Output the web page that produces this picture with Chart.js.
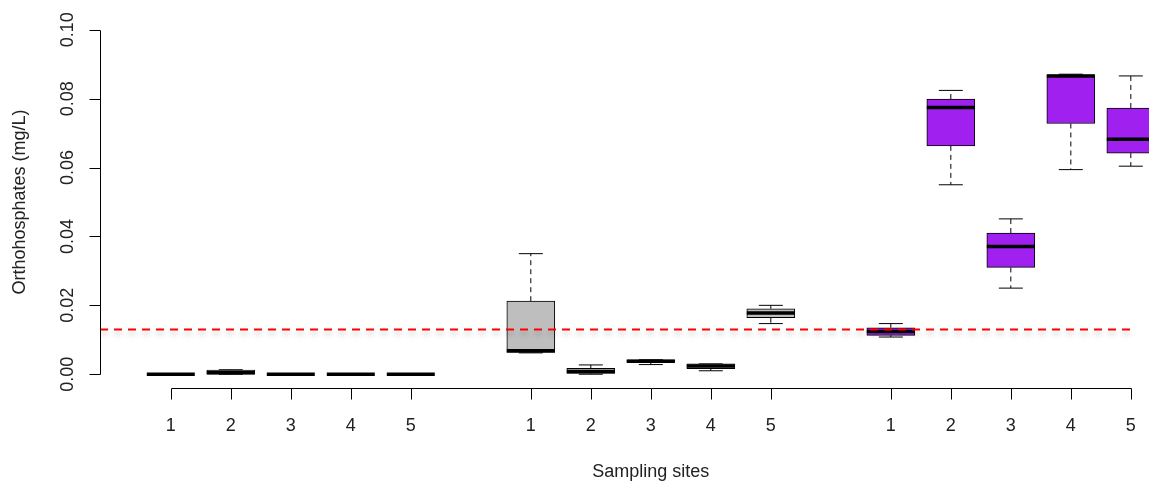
<!DOCTYPE html>
<html>
<head>
<meta charset="utf-8">
<script src="https://cdn.jsdelivr.net/npm/chart.js@4.4.0/dist/chart.umd.min.js"></script>
<style>
  html, body { margin: 0; padding: 0; background: #ffffff; }
  #caixa { width: 1149px; height: 482px; }
</style>
</head>
<body>
<div id="caixa"><canvas id="grafico" width="1149" height="482"></canvas></div>
<script>
// sites of each group (three groups of five, shown side by side)
const sites = ["1", "2", "3", "4", "5"];

// box statistics, group after group
const lowerWhisker = [0, 0, 0, 0, 0,
  0.0062, 0.0000, 0.0028, 0.0010, 0.0147,
  0.0108, 0.0550, 0.0250, 0.0594, 0.0604];
const q1 = [0, 0, 0, 0, 0,
  0.0063, 0.0002, 0.0034, 0.0016, 0.0164,
  0.0113, 0.0663, 0.0310, 0.0728, 0.0642];
const median = [0, 0.0004, 0, 0, 0,
  0.0068, 0.0008, 0.0038, 0.0024, 0.0178,
  0.0124, 0.0774, 0.0371, 0.0866, 0.0682];
const q3 = [0, 0.0012, 0, 0, 0,
  0.0212, 0.0017, 0.0042, 0.0030, 0.0190,
  0.0135, 0.0799, 0.0410, 0.0869, 0.0773];
const upperWhisker = [0, 0.0013, 0, 0, 0,
  0.0350, 0.0027, 0.0042, 0.0030, 0.0200,
  0.0147, 0.0824, 0.0451, 0.0871, 0.0866];

// reference limit (dashed red line)
const limite = 0.013;
const yTicks = [0, 0.02, 0.04, 0.06, 0.08, 0.10];

const corGrupo = ["#ffffff", "#bebebe", "#a020f0"];
const xMin = -0.18, xMax = 17.303;
const fonte = "18px 'Liberation Sans', Arial, sans-serif";
const corTexto = "#222222";

// slot of every box: a blank slot between groups, like R's boxplot
const posicoes = q1.map((v, i) => Math.floor(i / sites.length) * (sites.length + 1) + (i % sites.length) + 1);

const caixas = posicoes.map((x, i) => ({x: x, y: [q1[i], q3[i]]}));

let bigodes = [];
let hastes = [];
let medianas = [];
posicoes.forEach((x, i) => {
    bigodes.push({x: x, y: q3[i]}, {x: x, y: upperWhisker[i]}, {x: x, y: null});
    bigodes.push({x: x, y: q1[i]}, {x: x, y: lowerWhisker[i]}, {x: x, y: null});
    hastes.push({x: x - 0.2, y: upperWhisker[i]}, {x: x + 0.2, y: upperWhisker[i]}, {x: x, y: null});
    hastes.push({x: x - 0.2, y: lowerWhisker[i]}, {x: x + 0.2, y: lowerWhisker[i]}, {x: x, y: null});
    medianas.push({x: x - 0.4, y: median[i]}, {x: x + 0.4, y: median[i]}, {x: x, y: null});
});

const linhaLimite = [{x: xMin, y: limite}, {x: posicoes[posicoes.length - 1], y: limite}];

// soft grey shadow under the red line
const sombra = {
    id: "sombra",
    beforeDatasetDraw(chart, args){
        if(args.meta.label == "limite"){
            const ctx = chart.ctx;
            ctx.save();
            ctx.shadowColor = "rgba(0,0,0,0.22)";
            ctx.shadowBlur = 5;
            ctx.shadowOffsetY = 4;
        }
    },
    afterDatasetDraw(chart, args){
        if(args.meta.label == "limite"){
            chart.ctx.restore();
        }
    }
};

// R style axes: lines only between first and last tick, rotated y labels
const eixos = {
    id: "eixos",
    afterDraw(chart){
        const ctx = chart.ctx;
        const sx = chart.scales.x, sy = chart.scales.y;
        const area = chart.chartArea;
        ctx.save();
        ctx.strokeStyle = "#000000";
        ctx.lineWidth = 1;
        ctx.fillStyle = corTexto;
        ctx.font = fonte;

        //eixo y
        const ax = Math.round(area.left) + 0.5;
        const y0 = Math.round(sy.getPixelForValue(yTicks[0])) + 0.5;
        const y1 = Math.round(sy.getPixelForValue(yTicks[yTicks.length - 1])) + 0.5;
        ctx.beginPath();
        ctx.moveTo(ax, y0);
        ctx.lineTo(ax, y1);
        yTicks.forEach(v => {
            const py = Math.round(sy.getPixelForValue(v)) + 0.5;
            ctx.moveTo(ax, py);
            ctx.lineTo(ax - 11, py);
        });
        ctx.stroke();
        ctx.textAlign = "center";
        ctx.textBaseline = "alphabetic";
        yTicks.forEach(v => {
            const py = sy.getPixelForValue(v);
            ctx.save();
            ctx.translate(73, py);
            ctx.rotate(-Math.PI / 2);
            ctx.fillText(v.toFixed(2), 0, 0);
            ctx.restore();
        });

        //eixo x
        const ay = Math.round(area.bottom) + 0.5;
        const x0 = Math.round(sx.getPixelForValue(posicoes[0])) + 0.5;
        const x1 = Math.round(sx.getPixelForValue(posicoes[posicoes.length - 1])) + 0.5;
        ctx.beginPath();
        ctx.moveTo(x0, ay);
        ctx.lineTo(x1, ay);
        posicoes.forEach(p => {
            const px = Math.round(sx.getPixelForValue(p)) + 0.5;
            ctx.moveTo(px, ay);
            ctx.lineTo(px, ay + 11);
        });
        ctx.stroke();
        posicoes.forEach((p, i) => {
            ctx.fillText(sites[i % sites.length], sx.getPixelForValue(p), 431);
        });

        //titulos
        const meio = (sx.getPixelForValue(xMin) + sx.getPixelForValue(posicoes[posicoes.length - 1] + 1.18)) / 2;
        ctx.fillText("Sampling sites", meio, 477);
        ctx.save();
        ctx.translate(25, (area.top + area.bottom) / 2);
        ctx.rotate(-Math.PI / 2);
        ctx.fillText("Orthohosphates (mg/L)", 0, 0);
        ctx.restore();
        ctx.restore();
    }
};

const desenho = new Chart("grafico", {
    type: "bar",
    data: {
        datasets: [
            {
                type: "line",
                label: "limite",
                data: linhaLimite,
                borderColor: "#ff0000",
                borderWidth: 2,
                borderDash: [8, 6],
                pointRadius: 0,
                fill: false,
                order: 0
            },
            {
                type: "line",
                label: "mediana",
                data: medianas,
                borderColor: "#000000",
                borderWidth: 3.5,
                pointRadius: 0,
                spanGaps: false,
                fill: false,
                order: 1
            },
            {
                label: "caixa",
                data: caixas,
                backgroundColor: ctx => corGrupo[Math.floor(ctx.dataIndex / sites.length)],
                borderColor: "#000000",
                borderWidth: 1,
                borderSkipped: false,
                barThickness: 48,
                order: 2
            },
            {
                type: "line",
                label: "bigode",
                data: bigodes,
                borderColor: "#000000",
                borderWidth: 1,
                borderDash: [5, 4],
                pointRadius: 0,
                spanGaps: false,
                fill: false,
                order: 3
            },
            {
                type: "line",
                label: "haste",
                data: hastes,
                borderColor: "#000000",
                borderWidth: 1,
                pointRadius: 0,
                spanGaps: false,
                fill: false,
                order: 3
            }
        ]
    },
    options: {
        responsive: false,
        animation: false,
        layout: {padding: {left: 100, top: 16, right: 0, bottom: 94}},
        plugins: {legend: {display: false}, tooltip: {enabled: false}},
        scales: {
            x: {type: "linear", min: xMin, max: xMax, offset: false, display: false},
            y: {type: "linear", min: -0.004, max: 0.104, display: false}
        }
    },
    plugins: [sombra, eixos]
});
</script>
</body>
</html>
